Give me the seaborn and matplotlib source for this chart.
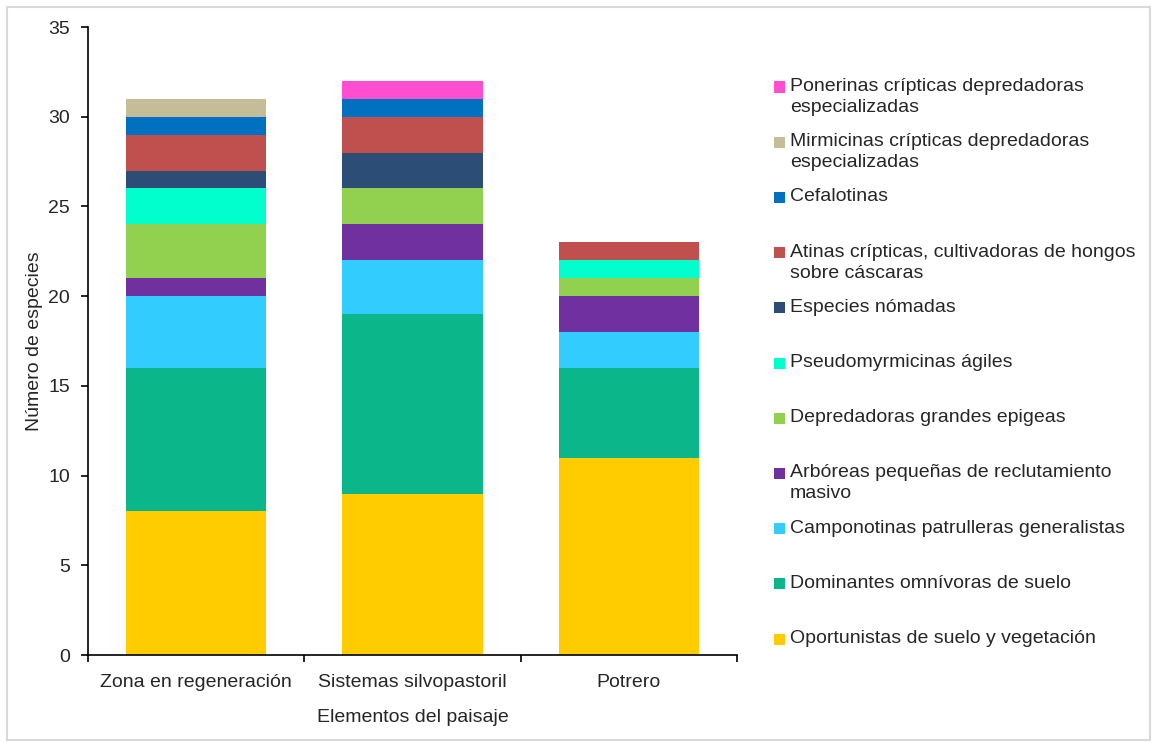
import numpy as np
import pandas as pd
import matplotlib
matplotlib.use("Agg")
import matplotlib.pyplot as plt
from matplotlib.patches import Rectangle
import seaborn as sns

# === Datos ===
paisajes = ["Zona en regeneración", "Sistemas silvopastoril", "Potrero"]

grupos = [
    "Oportunistas de suelo y vegetación",
    "Dominantes omnívoras de suelo",
    "Camponotinas patrulleras generalistas",
    "Arbóreas pequeñas de reclutamiento\nmasivo",
    "Depredadoras grandes epigeas",
    "Pseudomyrmicinas ágiles",
    "Especies nómadas",
    "Atinas crípticas, cultivadoras de hongos\nsobre cáscaras",
    "Cefalotinas",
    "Mirmicinas crípticas depredadoras\nespecializadas",
    "Ponerinas crípticas depredadoras\nespecializadas",
]

oportunistas = [8, 9, 11]
dominantes = [8, 10, 5]
camponotinas = [4, 3, 2]
arboreas = [1, 2, 2]
depredadoras = [3, 2, 1]
pseudomyrmicinas = [2, 0, 1]
nomadas = [1, 2, 0]
atinas = [2, 2, 1]
cefalotinas = [1, 1, 0]
mirmicinas = [1, 0, 0]
ponerinas = [0, 1, 0]

colores = ["#FFCC00", "#0BB68A", "#33CCFF", "#7030A0", "#92D050", "#00FFCC",
           "#2C4D75", "#C0504D", "#0070C0", "#C4BD97", "#FF4FD0"]

valores = np.array([oportunistas, dominantes, camponotinas, arboreas, depredadoras,
                    pseudomyrmicinas, nomadas, atinas, cefalotinas, mirmicinas, ponerinas])
acumulado = np.cumsum(valores, axis=0)

# === Figura ===
sns.set_style("white")
plt.rcParams["font.family"] = ["Liberation Sans", "DejaVu Sans"]
fs = 14

fig = plt.figure(figsize=(11.56, 7.43), dpi=100)
ax = fig.add_axes([88 / 1156, 88 / 743, (737 - 88) / 1156, (655 - 27) / 743])

# barras apiladas: se dibuja el acumulado de arriba hacia abajo
for i in range(len(grupos) - 1, -1, -1):
    df = pd.DataFrame({"paisaje": paisajes, "n": acumulado[i]})
    sns.barplot(data=df, x="paisaje", y="n", color=colores[i], saturation=1,
                width=0.65, linewidth=0, ax=ax, order=paisajes)

ax.set_ylim(0, 35)
ax.set_xlim(-0.5, 2.5)
ax.set_yticks(range(0, 36, 5))
ax.tick_params(axis="y", labelsize=fs, length=5, width=1.2, color="black",
               direction="out", left=True, pad=8)
ax.tick_params(axis="x", which="major", labelsize=fs, length=0, pad=14)
ax.set_xticks([-0.5, 0.5, 1.5, 2.5], minor=True)
ax.tick_params(axis="x", which="minor", length=5, width=1.2, color="black",
               direction="out", bottom=True)
for s in ["top", "right"]:
    ax.spines[s].set_visible(False)
for s in ["left", "bottom"]:
    ax.spines[s].set_color("black")
    ax.spines[s].set_linewidth(1.2)

ax.set_xlabel("Elementos del paisaje", fontsize=fs, labelpad=13)
ax.set_ylabel("Número de especies", fontsize=fs, labelpad=4)

# === Leyenda (al estilo Excel, huecos fijos) ===
W, H = 1156, 743
orden_leyenda = list(range(len(grupos) - 1, -1, -1))
for k, i in enumerate(orden_leyenda):
    yc = 87 + 55.2 * k
    fig.patches.append(Rectangle((774 / W, 1 - (yc + 5.5) / H), 11 / W, 11 / H,
                                 transform=fig.transFigure, facecolor=colores[i],
                                 edgecolor="none"))
    fig.text(790 / W, 1 - (yc - 9) / H, grupos[i], fontsize=fs, va="top", ha="left",
             linespacing=1.3)

# borde del área del gráfico
fig.patches.append(Rectangle((7 / W, 3 / H), (1150 - 7) / W, (738 - 5) / H,
                             transform=fig.transFigure, facecolor="none",
                             edgecolor="#D9D9D9", linewidth=1.5))

plt.savefig("out.png", dpi=100)
